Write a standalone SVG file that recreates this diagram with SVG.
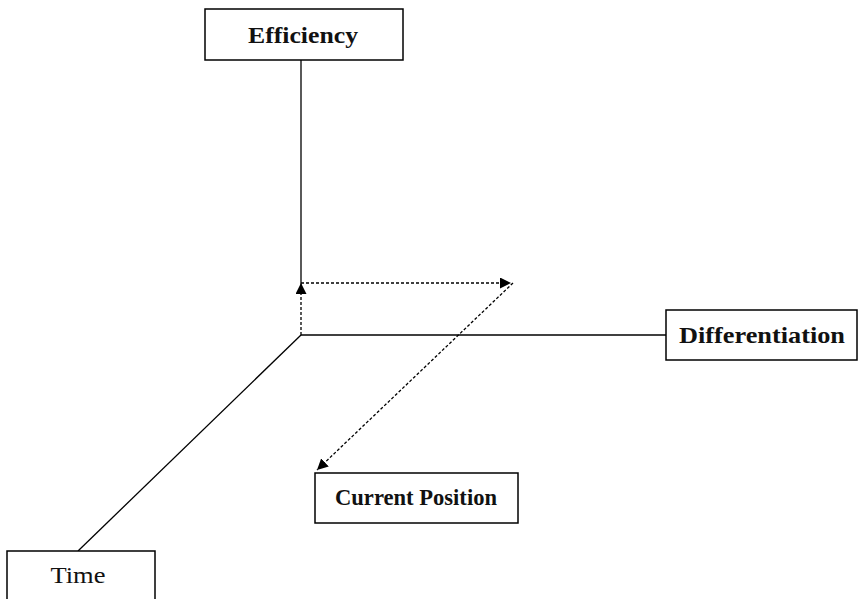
<svg xmlns="http://www.w3.org/2000/svg" width="859" height="599" viewBox="0 0 859 599">
<style>
.box{fill:#fff;stroke:#000;stroke-width:1.5}
.lbl{font-family:"Liberation Serif","Times New Roman",serif;font-size:24px;font-weight:bold;fill:#111;text-anchor:middle}
.reg{font-weight:normal}
.axis{stroke:#000;stroke-width:1.3;fill:none}
.dot{stroke:#000;stroke-width:1.3;stroke-dasharray:3,2;fill:none}
</style>
<defs>
<marker id="ah" viewBox="0 0 10 10" refX="10" refY="5" markerWidth="11" markerHeight="11" markerUnits="userSpaceOnUse" orient="auto">
<path d="M0,0 L10,5 L0,10 z" fill="#000"/>
</marker>
</defs>
<rect width="859" height="599" fill="#fff"/>
<g id="connectors">
<line class="axis" x1="301" y1="60" x2="301" y2="283"/>
<line class="axis" x1="301" y1="335" x2="666" y2="335"/>
<line class="axis" x1="301" y1="335" x2="78" y2="551"/>
<line class="dot" x1="301" y1="335" x2="301" y2="283" marker-end="url(#ah)"/>
<line class="dot" x1="301" y1="283" x2="511" y2="283" marker-end="url(#ah)"/>
<line class="dot" x1="513" y1="283" x2="317" y2="470" marker-end="url(#ah)"/>
</g>
<g id="efficiency">
<rect class="box" x="205" y="9" width="198" height="51"/>
<text class="lbl" x="303" y="43" textLength="110" lengthAdjust="spacingAndGlyphs">Efficiency</text>
</g>
<g id="differentiation">
<rect class="box" x="666" y="310" width="191" height="50"/>
<text class="lbl" x="762" y="343" textLength="166" lengthAdjust="spacingAndGlyphs">Differentiation</text>
</g>
<g id="current-position">
<rect class="box" x="315" y="473" width="203" height="50"/>
<text class="lbl" x="416" y="505" textLength="162" lengthAdjust="spacingAndGlyphs">Current Position</text>
</g>
<g id="time">
<rect class="box" x="7" y="551" width="148" height="60"/>
<text class="lbl reg" x="78" y="583" textLength="55" lengthAdjust="spacingAndGlyphs">Time</text>
</g>
</svg>
